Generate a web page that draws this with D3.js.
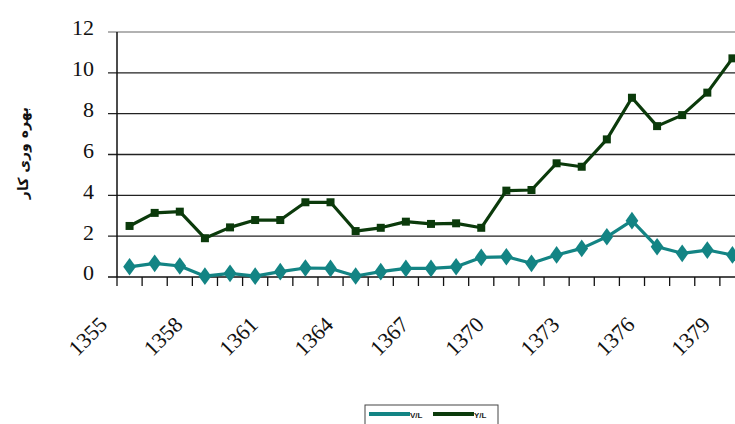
<!DOCTYPE html>
<html>
<head>
<meta charset="utf-8">
<script src="https://cdn.jsdelivr.net/npm/d3@7/dist/d3.min.js"></script>
<style>
    body { margin: 0; background: #fff; }
    svg { display: block; }
</style>
</head>
<body>
<svg id="chart" width="735" height="424"></svg>
<script>
// years 1355 .. 1379
const years = ["1355", "1356", "1357", "1358", "1359", "1360", "1361", "1362", "1363", "1364",
               "1365", "1366", "1367", "1368", "1369", "1370", "1371", "1372", "1373", "1374",
               "1375", "1376", "1377", "1378", "1379"];
const yearLabels = ["1355", "1358", "1361", "1364", "1367", "1370", "1373", "1376", "1379"];
const vlValues = [0.5, 0.67, 0.54, 0.04, 0.18, 0.04, 0.26, 0.44, 0.42, 0.05,
                  0.26, 0.42, 0.42, 0.5, 0.96, 0.99, 0.67, 1.08, 1.4, 1.97,
                  2.76, 1.48, 1.16, 1.32, 1.08];
const ylValues = [2.5, 3.14, 3.2, 1.9, 2.43, 2.79, 2.79, 3.66, 3.66, 2.25,
                  2.41, 2.71, 2.6, 2.63, 2.41, 4.23, 4.26, 5.57, 5.4, 6.74,
                  8.78, 7.39, 7.93, 9.03, 10.71];
const yTicks = [0, 2, 4, 6, 8, 10, 12];
const yTitle = "بهره وری کار";

const padding = { top: 32, left: 117 };
const plotWidth = 628;   // 25 categories, the right edge runs past the picture
const plotHeight = 245;

const vlColor = "#138484";
const ylColor = "#0b3a0b";

const svg = d3.select("#chart");
const g = svg.append("g").attr("transform", `translate(${padding.left},${padding.top})`);

const xScale = d3.scaleBand().domain(years).range([0, plotWidth]).padding(0);
const yScale = d3.scaleLinear().domain([0, 12]).range([plotHeight, 0]);

drawY();
drawX();
drawSeries(vlValues, vlColor, "diamond");
drawSeries(ylValues, ylColor, "square");
drawLegend();

function drawY() {
    // 网格线
    g.selectAll(".grid")
        .data(yTicks.filter(d => d > 0))
        .enter().append("line")
        .attr("x1", -9)
        .attr("x2", plotWidth)
        .attr("y1", d => yScale(d))
        .attr("y2", d => yScale(d))
        .attr("stroke", d => d === 12 ? "#999" : "#222")
        .attr("stroke-width", 1.3);

    g.append("line")
        .attr("x1", 0).attr("x2", 0)
        .attr("y1", 0).attr("y2", plotHeight)
        .attr("stroke", "#111").attr("stroke-width", 1.5);

    g.selectAll(".ylab")
        .data(yTicks)
        .enter().append("text")
        .attr("x", -23)
        .attr("y", d => yScale(d) - 4)
        .attr("dy", "0.34em")
        .attr("text-anchor", "end")
        .style("font-family", "Liberation Serif, serif")
        .style("font-size", "22px")
        .attr("fill", "#111")
        .text(d => d);

    svg.append("text")
        .attr("transform", "translate(28,153) rotate(-90)")
        .attr("text-anchor", "middle")
        .style("font-family", "DejaVu Sans, sans-serif")
        .style("font-size", "14px")
        .style("font-weight", "bold")
        .attr("fill", "#111")
        .text(yTitle);
}

function drawX() {
    g.append("line")
        .attr("x1", -9).attr("x2", plotWidth)
        .attr("y1", plotHeight).attr("y2", plotHeight)
        .attr("stroke", "#111").attr("stroke-width", 1.5);

    // 刻度在类别边界
    g.selectAll(".xtick")
        .data(years)
        .enter().append("line")
        .attr("x1", d => xScale(d))
        .attr("x2", d => xScale(d))
        .attr("y1", plotHeight)
        .attr("y2", plotHeight + 9)
        .attr("stroke", "#111").attr("stroke-width", 1.3);

    g.selectAll(".xlab")
        .data(yearLabels)
        .enter().append("text")
        .attr("transform", d => `translate(${xScale(d) + xScale.bandwidth() / 2 - 21},${plotHeight + 49}) rotate(-45)`)
        .attr("text-anchor", "end")
        .style("font-family", "Liberation Serif, serif")
        .style("font-size", "22px")
        .attr("fill", "#111")
        .text(d => d);
}

function drawSeries(values, color, shape) {
    const pts = years.map((y, i) => ({ year: y, value: values[i] }));
    const cx = d => xScale(d.year) + xScale.bandwidth() / 2;

    const line = d3.line().x(cx).y(d => yScale(d.value));
    g.append("path")
        .datum(pts)
        .attr("fill", "none")
        .attr("stroke", color)
        .attr("stroke-width", 3.2)
        .attr("stroke-linejoin", "round")
        .attr("d", line);

    const symbol = d3.symbol()
        .type(shape === "square" ? d3.symbolSquare : d3.symbolDiamond)
        .size(shape === "square" ? 64 : 90);
    g.selectAll(".pt-" + shape)
        .data(pts)
        .enter().append("path")
        .attr("transform", d => `translate(${cx(d)},${yScale(d.value)})` + (shape === "diamond" ? " scale(1.25,1)" : ""))
        .attr("d", symbol)
        .attr("fill", color);
}

function drawLegend() {
    const legend = svg.append("g").attr("transform", "translate(365,405)");
    legend.append("rect")
        .attr("width", 133).attr("height", 30)
        .attr("fill", "#fff")
        .attr("stroke", "#444").attr("stroke-width", 1);

    const items = [{ name: "V/L", color: vlColor }, { name: "Y/L", color: ylColor }];
    const item = legend.selectAll(".item")
        .data(items)
        .enter().append("g")
        .attr("transform", (d, i) => `translate(${4 + i * 64},9)`);
    item.append("line")
        .attr("x1", 0).attr("x2", 41)
        .attr("stroke", d => d.color).attr("stroke-width", 4);
    item.append("text")
        .attr("x", 41).attr("y", 4)
        .style("font-family", "Liberation Sans, Arial, sans-serif")
        .style("font-size", "8px")
        .style("font-weight", "bold")
        .attr("fill", "#222")
        .text(d => d.name);
}
</script>
</body>
</html>
